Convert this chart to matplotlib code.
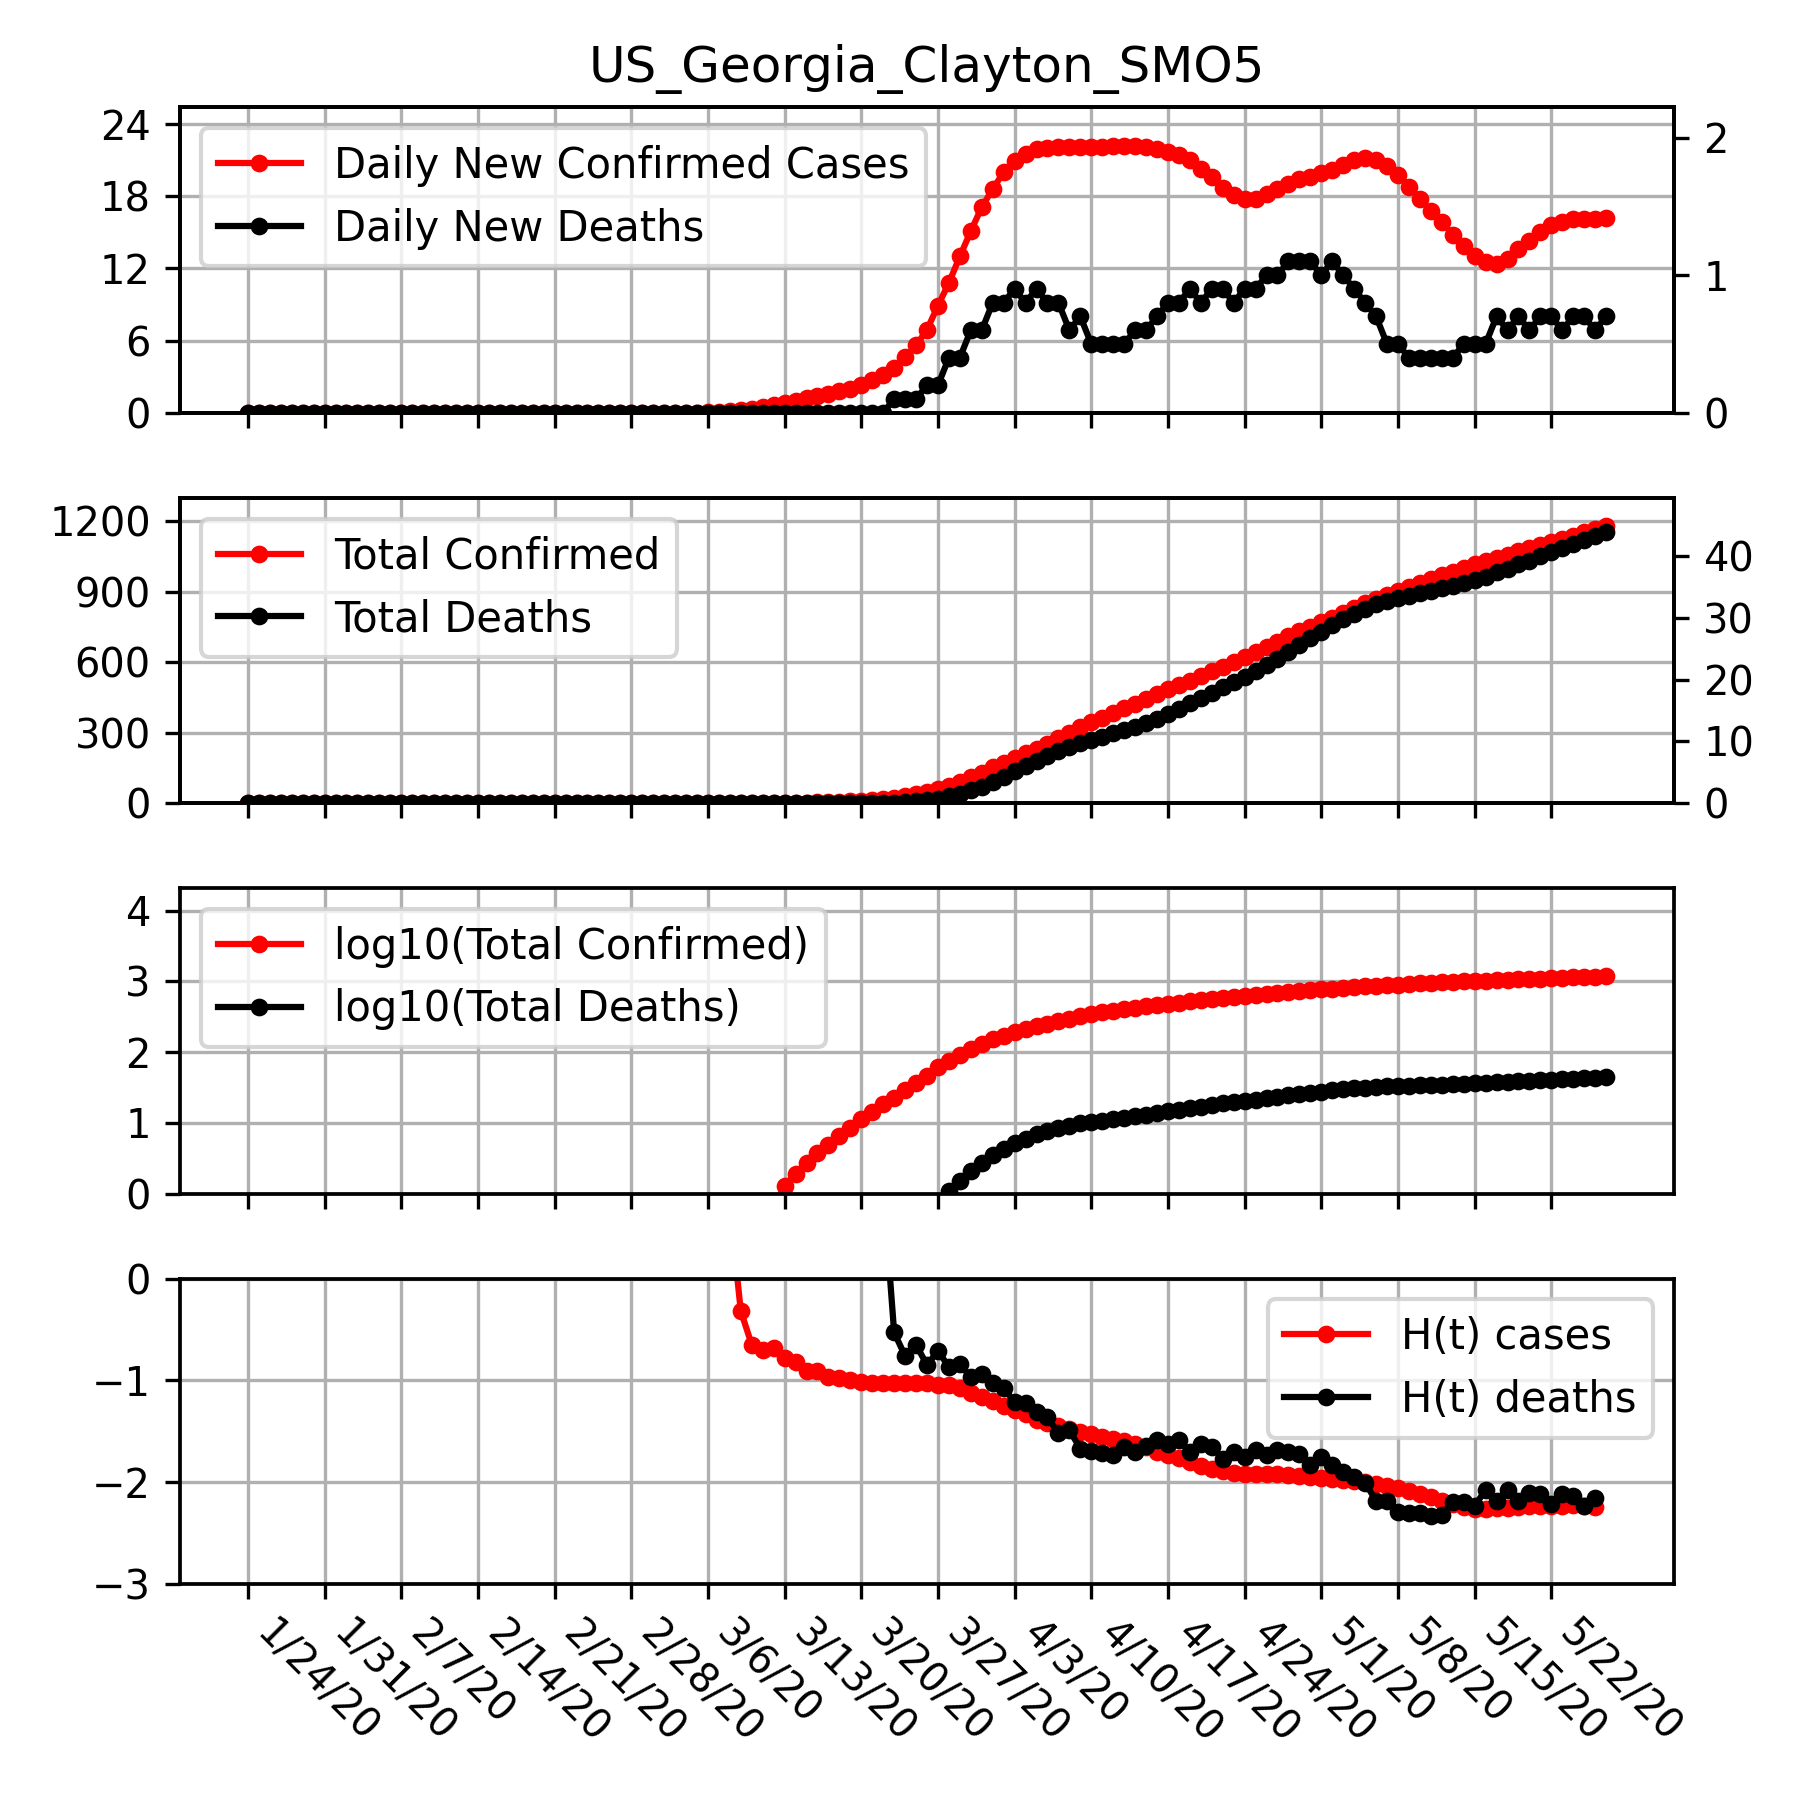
import numpy as np
import matplotlib.pyplot as plt

title = 'US_Georgia_Clayton_SMO5'

# one tick per week, starting at the first day of the series
date_labels = ['1/24/20', '1/31/20', '2/7/20', '2/14/20', '2/21/20', '2/28/20',
               '3/6/20', '3/13/20', '3/20/20', '3/27/20', '4/3/20', '4/10/20',
               '4/17/20', '4/24/20', '5/1/20', '5/8/20', '5/15/20', '5/22/20']

daily_cases = [0.0] * 42 + [
    0.05, 0.1, 0.15, 0.25, 0.35, 0.5, 0.65,
    0.85, 1.0, 1.2, 1.4, 1.6, 1.8, 2.0, 2.3, 2.7, 3.1, 3.7, 4.6,
    5.6, 6.9, 8.9, 10.8, 13.0, 15.1, 17.1, 18.6, 20.0, 20.9, 21.5, 21.9,
    22.0, 22.1, 22.1, 22.1, 22.1, 22.1, 22.2, 22.2, 22.2, 22.1,
    21.9, 21.7, 21.4, 21.0, 20.3, 19.6, 18.7, 18.1, 17.8, 17.8,
    18.2, 18.6, 19.0, 19.4, 19.6, 19.9, 20.2, 20.6, 21.0, 21.2,
    21.0, 20.5, 19.8, 18.8, 17.8, 16.8, 15.9, 14.8, 13.9, 13.0,
    12.5, 12.4, 12.8, 13.6, 14.3, 15.0, 15.6, 15.9, 16.1, 16.1, 16.1, 16.2]

daily_deaths = [0.0] * 59 + [
    0.1, 0.1, 0.1, 0.2, 0.2, 0.4, 0.4, 0.6, 0.6, 0.8, 0.8,
    0.9, 0.8, 0.9, 0.8, 0.8, 0.6, 0.7,
    0.5, 0.5, 0.5, 0.5, 0.6, 0.6, 0.7, 0.8, 0.8,
    0.9, 0.8, 0.9, 0.9, 0.8, 0.9, 0.9,
    1.0, 1.0, 1.1, 1.1, 1.1,
    1.0, 1.1, 1.0, 0.9, 0.8, 0.7, 0.5, 0.5,
    0.4, 0.4, 0.4, 0.4, 0.4, 0.5, 0.5, 0.5,
    0.7, 0.6, 0.7, 0.6, 0.7, 0.7, 0.6, 0.7, 0.7, 0.6, 0.7]

total_cases = [0.0] * 45 + [
    0.1, 0.2, 0.3, 0.6,
    1.3, 1.9, 2.7, 3.8, 4.9, 6.5, 8.5, 11.2, 14.1, 18.2, 22.4, 28.8,
    37.2, 46, 61, 75, 92, 111, 130, 152, 172, 193, 212, 232,
    253, 277, 298, 325, 345, 364, 383, 403, 423, 444,
    464, 484, 502, 521, 541, 561, 581, 602, 623, 644,
    666, 688, 710, 731, 751, 771, 790, 809, 830, 850,
    869, 888, 905, 922, 938, 954, 969, 984, 1000, 1016,
    1031, 1045, 1058, 1072, 1084, 1098, 1111, 1125, 1139, 1153, 1167, 1180]

total_deaths = [0.0] * 59 + [
    0.1, 0.2, 0.3, 0.5, 0.7, 1.1, 1.5, 2.1, 2.7, 3.5, 4.3,
    5.2, 6.0, 6.9, 7.7, 8.5, 9.1, 9.8,
    10.3, 10.8, 11.3, 11.8, 12.4, 13.0, 13.7, 14.5, 15.3,
    16.2, 17.0, 17.9, 18.8, 19.6, 20.5, 21.4,
    22.4, 23.4, 24.5, 25.6, 26.7,
    27.7, 28.8, 29.8, 30.7, 31.5, 32.2, 32.7, 33.2,
    33.6, 34.0, 34.4, 34.8, 35.2, 35.7, 36.2, 36.7,
    37.4, 38.0, 38.7, 39.3, 40.0, 40.7, 41.3, 42.0, 42.7, 43.3, 44.0]

h_cases = [np.nan] * 44 + [
    0.7, -0.32, -0.65, -0.70, -0.68, -0.78, -0.82, -0.91, -0.91, -0.97,
    -0.98, -1.00, -1.02, -1.03, -1.03, -1.03, -1.03, -1.03, -1.03, -1.05,
    -1.05, -1.08, -1.12, -1.16, -1.20, -1.25, -1.29, -1.33, -1.39, -1.42,
    -1.45, -1.48, -1.51, -1.53, -1.56, -1.58, -1.60, -1.63, -1.65,
    -1.70, -1.73, -1.76, -1.80, -1.84, -1.87, -1.89, -1.91, -1.92, -1.92,
    -1.92, -1.92, -1.93, -1.94, -1.95, -1.96, -1.97, -1.98, -1.99, -2.00,
    -2.02, -2.04, -2.06, -2.09, -2.12, -2.15, -2.18, -2.21, -2.24, -2.26,
    -2.26, -2.25, -2.25, -2.24, -2.23, -2.23, -2.23, -2.23, -2.22, -2.23,
    -2.24] + [np.nan]

h_deaths = [np.nan] * 58 + [
    0.9, -0.53, -0.76, -0.65, -0.85, -0.71, -0.87, -0.84, -0.97, -0.94,
    -1.03, -1.08, -1.21, -1.22, -1.31, -1.36, -1.52, -1.49, -1.67, -1.69,
    -1.71, -1.73, -1.65, -1.70, -1.64,
    -1.59, -1.63, -1.59, -1.70, -1.63, -1.65, -1.77, -1.70, -1.75, -1.68,
    -1.73, -1.68, -1.70, -1.72, -1.83, -1.75, -1.83, -1.90, -1.95, -2.01,
    -2.18, -2.18, -2.29, -2.30, -2.30, -2.33, -2.32, -2.19, -2.19, -2.23,
    -2.08, -2.18, -2.08, -2.18, -2.11, -2.12, -2.21, -2.12, -2.14, -2.23,
    -2.16] + [np.nan]

x = np.arange(len(daily_cases))
tc = np.array(total_cases, dtype=float)
td = np.array(total_deaths, dtype=float)
log_cases = np.log10(np.where(tc > 0, tc, np.nan))
log_deaths = np.log10(np.where(td > 0, td, np.nan))

plt.rcParams['font.size'] = 9.6
plt.rcParams['legend.fontsize'] = 10
plt.rcParams['grid.linewidth'] = 0.8
plt.rcParams['axes.linewidth'] = 0.9
plt.rcParams['lines.linewidth'] = 1.5
plt.rcParams['lines.markersize'] = 6.5

fig, axes = plt.subplots(4, 1, figsize=(6, 6), sharex=True)
fig.subplots_adjust(left=0.1, right=0.93, top=0.9404, bottom=0.12, hspace=0.278)

# panel 1: daily counts, deaths on the right axis
ax = axes[0]
axr = ax.twinx()
l1, = ax.plot(x, daily_cases, 'r.-')
l2, = axr.plot(x, daily_deaths, 'k.-')
ax.set_ylim(0, 25.4)
ax.set_yticks([0, 6, 12, 18, 24])
axr.set_ylim(0, 2.22)
axr.set_yticks([0, 1, 2])
ax.grid(True)
axr.legend([l1, l2], ['Daily New Confirmed Cases', 'Daily New Deaths'], loc='upper left')
ax.set_title(title, fontsize=12)

# panel 2: totals
ax = axes[1]
axr = ax.twinx()
l1, = ax.plot(x, total_cases, 'r.-')
l2, = axr.plot(x, total_deaths, 'k.-')
ax.set_ylim(0, 1300)
ax.set_yticks([0, 300, 600, 900, 1200])
axr.set_ylim(0, 49.5)
axr.set_yticks([0, 10, 20, 30, 40])
ax.grid(True)
axr.legend([l1, l2], ['Total Confirmed', 'Total Deaths'], loc='upper left')

# panel 3: log10 of totals
ax = axes[2]
ax.plot(x, log_cases, 'r.-', label='log10(Total Confirmed)')
ax.plot(x, log_deaths, 'k.-', label='log10(Total Deaths)')
ax.set_ylim(0, 4.32)
ax.set_yticks([0, 1, 2, 3, 4])
ax.grid(True)
ax.legend(loc='upper left')

# panel 4: H(t)
ax = axes[3]
ax.plot(x, h_cases, 'r.-', label='H(t) cases')
ax.plot(x, h_deaths, 'k.-', label='H(t) deaths')
ax.set_ylim(-3, 0)
ax.set_yticks([-3, -2, -1, 0])
ax.grid(True)
ax.legend(loc='upper right')

ax.set_xticks(np.arange(0, len(x), 7))
ax.set_xticklabels(date_labels, rotation=-45, ha='left')

plt.savefig('out.png', dpi=300)
